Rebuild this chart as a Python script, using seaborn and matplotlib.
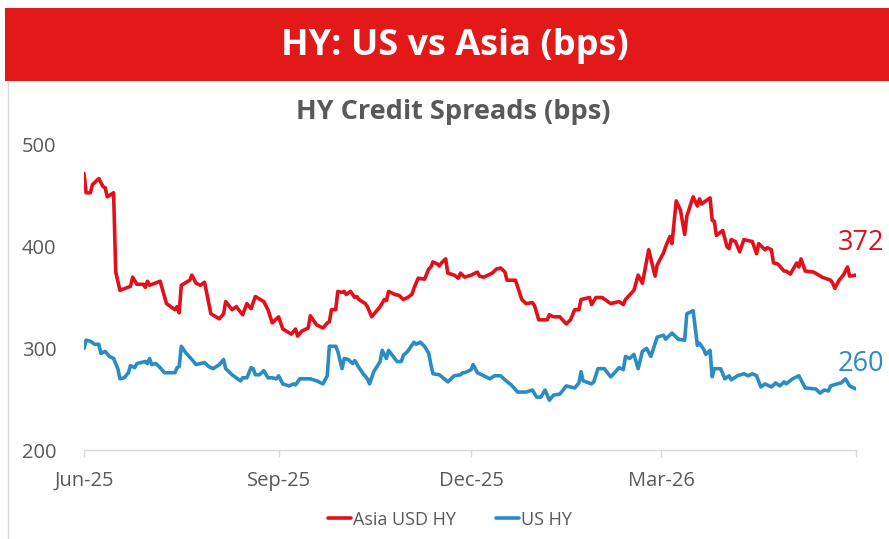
import pandas as pd
import seaborn as sns
import matplotlib.pyplot as plt
from matplotlib import font_manager
from matplotlib.patches import Rectangle
from matplotlib.lines import Line2D

# days since 2025-06-01 and spread levels (bps)
asia_days = [0, 1, 3, 4, 7, 9, 10, 11, 14, 15, 17, 22, 23, 25, 28, 29, 30, 31, 36, 39,
             43, 44, 45, 46, 50, 51, 53, 55, 57, 60, 64, 66, 67, 70, 72, 75, 77, 79, 81, 85,
             87, 89, 92, 94, 98, 100, 101, 103, 106, 107, 110, 113, 115, 116, 117, 119, 120, 122, 123, 124,
             126, 128, 129, 130, 133, 134, 136, 140, 142, 143, 144, 147, 149, 151, 153, 155, 156, 158, 161, 163,
             164, 165, 167, 168, 169, 171, 172, 175, 177, 178, 180, 183, 186, 187, 189, 193, 195, 197, 199, 200,
             204, 207, 209, 212, 213, 215, 219, 220, 222, 225, 228, 230, 232, 234, 235, 239, 240, 242, 245, 249,
             253, 255, 256, 260, 262, 264, 267, 270, 271, 274, 275, 277, 278, 280, 282, 284, 285, 288, 290, 291,
             292, 296, 297, 298, 299, 302, 304, 305, 306, 308, 310, 312, 316, 318, 319, 322, 323, 325, 326, 328,
             331, 332, 334, 335, 337, 338, 339, 341, 345, 349, 353, 354, 355, 357, 359, 361, 362, 365]
asia_hy = [472, 453, 453, 461, 467, 459, 458, 449, 453, 375, 357, 361, 370, 363, 363, 360, 366, 362, 366, 344,
           338, 341, 335, 362, 367, 372, 364, 362, 365, 334, 329, 334, 346, 338, 341, 333, 344, 339, 351, 346,
           338, 325, 331, 319, 314, 319, 312, 317, 320, 332, 323, 320, 325, 326, 338, 338, 356, 355, 356, 353,
           356, 350, 351, 348, 344, 341, 331, 341, 348, 347, 356, 353, 352, 348, 350, 353, 359, 369, 368, 378,
           380, 385, 383, 381, 384, 388, 374, 372, 369, 374, 370, 372, 375, 371, 370, 374, 378, 379, 375, 367,
           367, 348, 344, 345, 342, 328, 328, 333, 331, 331, 324, 328, 338, 338, 348, 350, 343, 350, 350, 344,
           346, 343, 348, 357, 372, 364, 397, 371, 382, 394, 400, 410, 403, 445, 436, 412, 430, 449, 440, 447,
           442, 448, 426, 425, 411, 416, 400, 398, 407, 405, 395, 407, 405, 393, 403, 397, 399, 397, 384, 383,
           376, 376, 373, 377, 384, 380, 388, 376, 375, 370, 367, 364, 359, 367, 372, 380, 371, 372]

us_days = [0, 1, 3, 5, 7, 8, 10, 12, 14, 16, 17, 19, 21, 22, 24, 25, 29, 30, 31, 32,
           34, 36, 38, 40, 43, 44, 45, 46, 48, 51, 53, 57, 59, 61, 64, 66, 67, 70, 74, 75,
           77, 79, 80, 81, 83, 85, 87, 89, 91, 92, 94, 97, 99, 100, 102, 107, 110, 113, 115, 116,
           119, 120, 122, 123, 125, 127, 128, 130, 132, 134, 135, 137, 140, 141, 143, 144, 148, 150, 151, 153,
           156, 157, 159, 161, 163, 164, 165, 168, 172, 175, 178, 179, 180, 183, 184, 186, 189, 192, 194, 197,
           199, 202, 205, 209, 212, 214, 216, 218, 220, 222, 225, 228, 232, 234, 235, 236, 240, 241, 243, 246,
           249, 250, 253, 255, 256, 258, 260, 262, 264, 266, 268, 271, 274, 275, 278, 281, 284, 285, 288, 290,
           291, 293, 294, 296, 297, 298, 301, 303, 305, 306, 309, 312, 314, 316, 318, 320, 322, 325, 327, 329,
           331, 332, 335, 338, 341, 346, 348, 350, 352, 353, 356, 358, 360, 362, 365]
us_hy = [300, 308, 307, 304, 304, 295, 297, 292, 290, 280, 270, 271, 276, 283, 281, 285, 287, 285, 290, 284,
         285, 281, 276, 276, 276, 281, 282, 302, 296, 289, 284, 286, 282, 280, 284, 289, 280, 274, 268, 271,
         271, 281, 280, 274, 274, 278, 271, 271, 270, 273, 265, 263, 265, 264, 270, 270, 268, 265, 273, 302,
         302, 297, 280, 290, 289, 285, 288, 281, 275, 270, 265, 277, 287, 298, 290, 298, 287, 287, 293, 297,
         306, 304, 306, 302, 295, 284, 275, 274, 267, 273, 274, 276, 276, 279, 284, 276, 273, 270, 273, 273,
         269, 264, 257, 257, 259, 252, 252, 259, 249, 254, 255, 263, 261, 266, 277, 268, 265, 267, 280, 280,
         272, 274, 281, 279, 292, 290, 294, 280, 297, 300, 292, 311, 313, 309, 315, 309, 308, 334, 337, 303,
         305, 299, 294, 298, 272, 280, 280, 270, 273, 269, 273, 275, 273, 275, 273, 262, 265, 262, 266, 263,
         267, 265, 270, 273, 261, 260, 256, 259, 258, 263, 265, 266, 270, 263, 260]

tick_dates = ["2025-06-01", "2025-09-01", "2025-12-01", "2026-03-01", "2026-06-01"]
tick_labels = ["Jun-25", "Sep-25", "Dec-25", "Mar-26", ""]
y_ticks = [200, 300, 400, 500]

start = pd.Timestamp("2025-06-01")
df = pd.concat([
    pd.DataFrame({"date": start + pd.to_timedelta(asia_days, unit="D"), "bps": asia_hy, "series": "Asia USD HY"}),
    pd.DataFrame({"date": start + pd.to_timedelta(us_days, unit="D"), "bps": us_hy, "series": "US HY"}),
])

red = "#e3101b"
blue = "#2b8cc4"
grey = "#595959"

sns.set_theme(style="white")
names = set(font_manager.get_font_names())
fam = [f for f in ["Liberation Sans Narrow", "Open Sans", "DejaVu Sans"] if f in names]
plt.rcParams["font.family"] = fam

fig = plt.figure(figsize=(8.89, 5.39), dpi=100)
ax = fig.add_axes([84 / 889, 1 - 450 / 539, (856 - 84) / 889, 305 / 539])

sns.lineplot(data=df, x="date", y="bps", hue="series", palette=[red, blue],
             estimator=None, sort=False, linewidth=2.6, ax=ax)

ax.set_xlim(pd.Timestamp(tick_dates[0]), pd.Timestamp(tick_dates[-1]))
ax.set_ylim(200, 500)
ax.set_xticks(pd.to_datetime(tick_dates))
ax.set_xticklabels(tick_labels)
ax.set_yticks(y_ticks)
ax.set_xlabel("")
ax.set_ylabel("")
for s in ["top", "right", "left"]:
    ax.spines[s].set_visible(False)
ax.spines["bottom"].set_color("#d9d9d9")
ax.spines["bottom"].set_linewidth(1)
ax.tick_params(axis="x", length=5, width=1, color="#d9d9d9", direction="out", pad=10,
               labelsize=14.5, labelcolor=grey, bottom=True)
ax.tick_params(axis="y", length=0, pad=20, labelsize=14.5, labelcolor=grey)

handles, labels = ax.get_legend_handles_labels()
ax.get_legend().remove()
fig.legend(handles, labels, loc="center", bbox_to_anchor=(0.506, 0.036), ncol=2, frameon=False,
           fontsize=13, labelcolor=grey, handlelength=1.3, handletextpad=0.1, columnspacing=2.2)

# end-of-series value labels, kept inside the figure edge
ax.annotate(str(asia_hy[-1]), xy=(df["date"].max(), asia_hy[-1]), xytext=(-18, 32),
            textcoords="offset pixels", color=red, fontsize=19.5, ha="left", va="center",
            annotation_clip=False)
ax.annotate(str(us_hy[-1]), xy=(df["date"].max(), us_hy[-1]), xytext=(-18, 25),
            textcoords="offset pixels", color=blue, fontsize=19.5, ha="left", va="center",
            annotation_clip=False)

# banner and titles
fig.patches.append(Rectangle((5 / 889, 1 - 81 / 539), 1, 73 / 539, transform=fig.transFigure,
                             facecolor="#e31818", edgecolor="none", zorder=0))
fig.lines.append(Line2D([8 / 889, 8 / 889], [0, 1 - 82 / 539], transform=fig.transFigure,
                        color="#d9d9d9", linewidth=1))
fig.text(0.512, 1 - 46 / 539, "HY: US vs Asia (bps)", color="white", fontsize=26,
         fontweight="bold", ha="center", va="center")
fig.text(0.51, 1 - 112 / 539, "HY Credit Spreads (bps)", color=grey, fontsize=19.5,
         fontweight="bold", ha="center", va="center")

fig.savefig("out.png", dpi=100)
